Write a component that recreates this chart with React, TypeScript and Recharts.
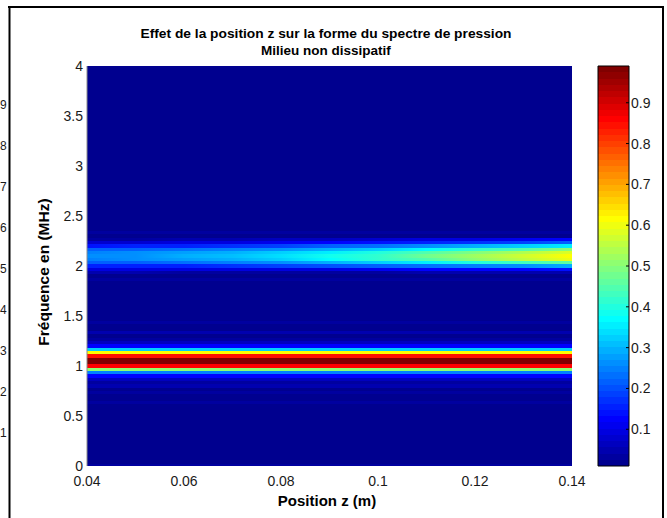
import React from 'react';
import { ScatterChart, XAxis, YAxis, ReferenceArea } from 'recharts';

// axis positions (m) and frequency ticks (MHz)
const zPositions = [0.04, 0.05, 0.06, 0.07, 0.08, 0.09, 0.1, 0.11, 0.12, 0.13, 0.14];
const zTicks = [0.04, 0.06, 0.08, 0.1, 0.12, 0.14];
const freqTicks = [0, 0.5, 1, 1.5, 2, 2.5, 3, 3.5, 4];
const colorTicks = [0.1, 0.2, 0.3, 0.4, 0.5, 0.6, 0.7, 0.8, 0.9];
const neighbourDigits = ['1', '2', '3', '4', '5', '6', '7', '8', '9'];

// fundamental near 1.05 MHz, identical at every z
const lowBandFreqs = [0.867, 0.9, 0.933, 0.967, 1.0, 1.033, 1.067, 1.1, 1.133, 1.167, 1.2, 1.233];
const lowBandLevels = [0.06, 0.12, 0.25, 0.5, 0.86, 0.99, 0.98, 0.84, 0.62, 0.32, 0.13, 0.06];

// faint side lobes
const sideLobeFreqs = [0.0, 0.633, 0.733, 0.8, 0.833, 1.267, 1.333, 1.433, 1.867, 2.333];
const sideLobeLevels = [0.03, 0.03, 0.04, 0.05, 0.04, 0.04, 0.05, 0.04, 0.03, 0.03];

// second harmonic near 2.1 MHz: one row per frequency, one value per z position
const highBandFreqs = [2.267, 2.233, 2.2, 2.167, 2.133, 2.1, 2.067, 2.033, 2.0, 1.967, 1.933];
const highBandLevels = [
  [0.04, 0.04, 0.05, 0.05, 0.06, 0.07, 0.08, 0.09, 0.1, 0.11, 0.12],
  [0.08, 0.08, 0.09, 0.1, 0.11, 0.12, 0.14, 0.15, 0.17, 0.19, 0.21],
  [0.14, 0.15, 0.16, 0.17, 0.19, 0.21, 0.23, 0.26, 0.29, 0.32, 0.35],
  [0.21, 0.22, 0.23, 0.25, 0.27, 0.3, 0.33, 0.37, 0.41, 0.45, 0.5],
  [0.25, 0.26, 0.28, 0.3, 0.33, 0.36, 0.4, 0.44, 0.49, 0.54, 0.58],
  [0.26, 0.27, 0.29, 0.31, 0.34, 0.38, 0.42, 0.47, 0.52, 0.57, 0.62],
  [0.25, 0.26, 0.28, 0.3, 0.33, 0.37, 0.41, 0.45, 0.5, 0.55, 0.6],
  [0.22, 0.22, 0.23, 0.25, 0.27, 0.3, 0.33, 0.36, 0.4, 0.43, 0.46],
  [0.16, 0.16, 0.16, 0.17, 0.18, 0.2, 0.21, 0.23, 0.25, 0.27, 0.29],
  [0.09, 0.09, 0.09, 0.09, 0.1, 0.1, 0.11, 0.12, 0.12, 0.13, 0.14],
  [0.05, 0.05, 0.04, 0.04, 0.04, 0.04, 0.04, 0.05, 0.05, 0.05, 0.05],
];

const floorLevel = 0.01;
const colorMin = 0.01;
const colorMax = 0.99;
const rowStep = 1 / 30;
const zMin = zPositions[0];
const zMax = zPositions[zPositions.length - 1];

const FONT = '"Liberation Sans", Arial, sans-serif';

const clamp = (v: number) => Math.max(0, Math.min(1, v));

// 64-level jet colormap
const jetColor = (value: number) => {
  const t0 = (value - colorMin) / (colorMax - colorMin);
  const k = Math.min(63, Math.max(0, Math.floor(t0 * 64)));
  const t = (k + 1) / 64;
  const r = clamp(Math.min(4 * t - 1.5, -4 * t + 4.5));
  const g = clamp(Math.min(4 * t - 0.5, -4 * t + 3.5));
  const b = clamp(Math.min(4 * t + 0.5, -4 * t + 2.5));
  return `rgb(${Math.round(r * 255)},${Math.round(g * 255)},${Math.round(b * 255)})`;
};

const colorSteps = Array.from({ length: 64 }, (_, k) => ({
  lo: colorMin + (k * (colorMax - colorMin)) / 64,
  hi: colorMin + ((k + 1) * (colorMax - colorMin)) / 64,
}));

const RowRect = (props: any) => (
  <rect
    x={props.x}
    y={props.y}
    width={props.width}
    height={props.height}
    fill={props.fill}
    shapeRendering="crispEdges"
  />
);

const ColorbarTick = (props: any) => {
  const { x, y, payload } = props;
  return (
    <g>
      <line x1={x - 5} x2={x - 2} y1={y} y2={y} stroke="#000" />
      <text x={x} y={y} dy="0.355em" textAnchor="start" fontSize={14} fontFamily={FONT} fill="#1a1a1a">
        {`${payload.value}`}
      </text>
    </g>
  );
};

const tickStyle = { fontSize: 14, fontFamily: FONT, fill: '#1a1a1a' };

export default function App() {
  return (
    <div style={{ position: 'absolute', left: 0, top: 0, width: 667, height: 518, background: '#fff' }}>
      <div style={{ position: 'absolute', left: 0, top: 0 }}>
        <ScatterChart width={667} height={518} margin={{ top: 66, right: 95, bottom: 22, left: 47 }}>
          <defs>
            {highBandFreqs.map((f, i) => (
              <linearGradient key={f} id={`hb-${i}`} x1="0" y1="0" x2="1" y2="0">
                {zPositions.map((z, j) => (
                  <stop key={z} offset={(z - zMin) / (zMax - zMin)} stopColor={jetColor(highBandLevels[i][j])} />
                ))}
              </linearGradient>
            ))}
          </defs>
          <XAxis
            type="number"
            dataKey="z"
            domain={[zMin, zMax]}
            ticks={zTicks}
            allowDataOverflow
            height={30}
            axisLine={false}
            tickLine={false}
            tickSize={0}
            tickMargin={10}
            tick={tickStyle}
          />
          <YAxis
            type="number"
            dataKey="f"
            domain={[0, 4]}
            ticks={freqTicks}
            allowDataOverflow
            width={40}
            axisLine={{ stroke: '#8c8c8c' }}
            tickLine={false}
            tickSize={0}
            tickMargin={4}
            tick={tickStyle}
          />
          <ReferenceArea x1={zMin} x2={zMax} y1={0} y2={4} fill={jetColor(floorLevel)} fillOpacity={1} shape={RowRect} />
          {sideLobeFreqs.map((f, i) => (
            <ReferenceArea
              key={`s-${f}`}
              x1={zMin}
              x2={zMax}
              y1={Math.max(0, f - rowStep / 2)}
              y2={f + rowStep / 2}
              fill={jetColor(sideLobeLevels[i])}
              fillOpacity={1}
              shape={RowRect}
            />
          ))}
          {lowBandFreqs.map((f, i) => (
            <ReferenceArea
              key={`l-${f}`}
              x1={zMin}
              x2={zMax}
              y1={f - rowStep / 2}
              y2={f + rowStep / 2}
              fill={jetColor(lowBandLevels[i])}
              fillOpacity={1}
              shape={RowRect}
            />
          ))}
          {highBandFreqs.map((f, i) => (
            <ReferenceArea
              key={`h-${f}`}
              x1={zMin}
              x2={zMax}
              y1={f - rowStep / 2}
              y2={f + rowStep / 2}
              fill={`url(#hb-${i})`}
              fillOpacity={1}
              shape={RowRect}
            />
          ))}
          <text
            x={326}
            y={33}
            textAnchor="middle"
            dominantBaseline="central"
            fontSize={13.5}
            fontWeight="bold"
            fontFamily={FONT}
            fill="#000"
            textLength={371}
            lengthAdjust="spacingAndGlyphs"
          >
            Effet de la position z sur la forme du spectre de pression
          </text>
          <text x={326} y={50} textAnchor="middle" dominantBaseline="central" fontSize={13.5} fontWeight="bold" fontFamily={FONT} fill="#000">
            Milieu non dissipatif
          </text>
          <text x={327} y={500} textAnchor="middle" dominantBaseline="central" fontSize={15} fontWeight="bold" fontFamily={FONT} fill="#000">
            Position z (m)
          </text>
          <text
            x={43}
            y={272}
            transform="rotate(-90 43 272)"
            textAnchor="middle"
            dominantBaseline="central"
            fontSize={15.5}
            fontWeight="bold"
            fontFamily={FONT}
            fill="#000"
          >
            Fréquence en (MHz)
          </text>
        </ScatterChart>
      </div>

      {/* colorbar */}
      <div style={{ position: 'absolute', left: 0, top: 0 }}>
        <ScatterChart width={667} height={518} margin={{ top: 66, right: 2, bottom: 52, left: 598 }}>
          <XAxis type="number" dataKey="x" domain={[0, 1]} allowDataOverflow hide />
          <YAxis
            type="number"
            dataKey="v"
            orientation="right"
            domain={[colorMin, colorMax]}
            ticks={colorTicks}
            allowDataOverflow
            width={36}
            axisLine={false}
            tickLine={false}
            tickSize={0}
            tickMargin={2}
            tick={<ColorbarTick />}
          />
          {colorSteps.map((s, k) => (
            <ReferenceArea
              key={k}
              x1={0}
              x2={1}
              y1={s.lo}
              y2={s.hi}
              fill={jetColor((s.lo + s.hi) / 2)}
              fillOpacity={1}
              shape={RowRect}
            />
          ))}
          <ReferenceArea x1={0} x2={1} y1={colorMin} y2={colorMax} fill="none" stroke="#000" strokeWidth={1} fillOpacity={0} />
        </ScatterChart>
      </div>

      {/* page frame and the neighbouring figure's colorbar digits at the edge */}
      <svg width={667} height={518} style={{ position: 'absolute', left: 0, top: 0 }}>
        <line x1={8} x2={664} y1={7} y2={7} stroke="#000" strokeWidth={2} />
        <line x1={9.5} x2={9.5} y1={6} y2={518} stroke="#000" strokeWidth={2} />
        <line x1={663} x2={663} y1={6} y2={518} stroke="#000" strokeWidth={2} />
        {neighbourDigits.map((d, i) => (
          <text key={d} x={0} y={433 - i * 41} dy="0.355em" textAnchor="start" fontSize={12} fontFamily={FONT} fill="#1a1a1a">
            {d}
          </text>
        ))}
      </svg>
    </div>
  );
}
